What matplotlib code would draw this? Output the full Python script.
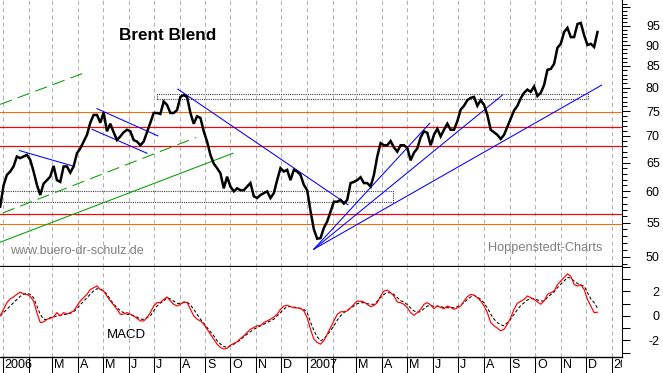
import matplotlib
matplotlib.use("Agg")
import matplotlib.pyplot as plt
import matplotlib.dates as mdates
import matplotlib.transforms as mtransforms
from matplotlib.ticker import NullFormatter
import pandas as pd

plt.rcParams['font.family'] = ['Liberation Sans', 'DejaVu Sans']

# ---------------- data ----------------
dates = pd.date_range('2005-12-29', periods=180, freq='4D')

price = [57.5, 61.0, 62.8, 63.4, 64.3, 66.1, 65.8, 66.1, 66.4, 65.5,
         63.4, 61.1, 59.4, 61.3, 61.9, 62.5, 64.4, 61.9, 61.6, 64.3,
         64.3, 63.2, 64.3, 66.7, 67.6, 68.9, 70.2, 72.6, 74.2, 74.2,
         72.6, 74.7, 70.9, 72.4, 70.7, 69.2, 69.9, 70.7, 71.2, 70.9,
         69.2, 68.9, 68.2, 68.9, 70.7, 72.6, 74.6, 74.6, 74.4, 77.0,
         76.3, 74.6, 74.6, 75.2, 78.0, 78.4, 78.0, 74.6, 72.4, 73.9,
         73.6, 70.9, 68.9, 66.4, 64.8, 64.0, 63.1, 60.5, 62.5, 60.8,
         60.0, 60.5, 60.2, 60.2, 60.8, 61.4, 59.2, 58.9, 59.4, 59.7,
         60.0, 58.9, 59.7, 61.9, 64.0, 63.4, 63.7, 61.9, 63.7, 63.4,
         62.8, 61.1, 60.2, 56.8, 54.0, 52.6, 52.7, 54.2, 55.2, 56.7,
         58.3, 58.3, 58.6, 58.0, 58.6, 61.4, 61.6, 61.9, 62.4, 61.4,
         61.4, 60.8, 62.8, 66.1, 68.6, 68.2, 68.2, 69.0, 67.8, 67.0,
         68.2, 68.2, 67.7, 65.4, 66.8, 67.6, 69.7, 70.9, 70.6, 68.2,
         70.2, 71.4, 69.9, 71.2, 72.4, 71.2, 71.2, 72.9, 75.3, 76.1,
         77.3, 77.8, 78.0, 76.1, 77.3, 76.3, 74.2, 71.2, 70.7, 70.2,
         69.4, 70.2, 71.8, 73.4, 75.1, 76.1, 77.7, 78.9, 79.6, 79.1,
         80.3, 78.2, 78.9, 80.6, 84.1, 84.3, 85.5, 89.4, 90.4, 93.4,
         94.5, 92.1, 92.1, 95.5, 95.8, 92.6, 90.1, 90.4, 89.6, 93.4]

macd = [0.0, 0.55, 1.08, 1.4, 1.55, 1.76, 1.95, 1.8, 1.76, 1.6,
        1.22, 0.27, -0.54, -0.5, -0.28, -0.2, -0.06, 0.27, 0.0, 0.27,
        0.15, 0.27, 0.4, 0.81, 1.22, 1.5, 1.76, 2.16, 2.3, 2.45,
        2.16, 2.03, 1.63, 1.22, 0.9, 0.54, 0.13, 0.15, 0.27, 0.15,
        0.0, -0.2, -0.41, -0.41, -0.14, 0.27, 0.81, 1.08, 1.1, 1.35,
        1.55, 1.22, 0.95, 0.81, 0.95, 1.14, 1.1, 0.54, 0.0, -0.27,
        -0.41, -0.68, -1.09, -1.5, -1.9, -2.31, -2.58, -2.71, -2.66, -2.39,
        -2.25, -2.11, -1.85, -1.63, -1.35, -1.09, -0.95, -0.81, -0.8, -0.54,
        -0.4, -0.27, -0.1, 0.13, 0.54, 0.81, 0.86, 0.76, 0.67, 0.65,
        0.6, 0.41, -0.14, -1.1, -1.9, -2.17, -2.31, -2.03, -1.5, -0.95,
        -0.41, 0.13, 0.33, 0.35, 0.41, 0.67, 0.95, 1.22, 1.2, 1.14,
        0.95, 0.76, 0.85, 1.08, 1.63, 2.03, 2.11, 1.9, 1.63, 1.14,
        1.08, 0.95, 0.67, 0.27, 0.05, 0.27, 0.54, 0.95, 1.08, 0.9,
        0.59, 0.81, 0.7, 0.59, 0.81, 0.7, 0.54, 0.65, 0.81, 1.22,
        1.57, 1.76, 1.7, 1.49, 1.22, 0.81, 0.27, -0.54, -0.81, -1.0,
        -1.22, -1.09, -0.68, -0.14, 0.54, 1.03, 1.2, 1.35, 1.63, 1.5,
        1.35, 1.15, 0.95, 1.22, 1.76, 1.9, 2.03, 2.57, 2.85, 3.15,
        3.44, 3.25, 2.57, 2.44, 2.57, 2.16, 1.35, 0.81, 0.27, 0.3]

signal = [0.0, 0.27, 0.54, 0.8, 1.08, 1.35, 1.6, 1.76, 1.85, 1.76,
          1.49, 0.8, 0.13, -0.27, -0.3, -0.14, -0.1, 0.0, 0.05, 0.1,
          0.15, 0.21, 0.35, 0.57, 0.92, 1.2, 1.49, 1.76, 2.05, 2.22,
          2.22, 2.03, 1.76, 1.35, 0.95, 0.7, 0.41, 0.27, 0.13, 0.1,
          0.0, -0.1, -0.27, -0.27, -0.14, 0.0, 0.41, 0.81, 1.05, 1.22,
          1.49, 1.4, 1.22, 1.03, 1.03, 1.1, 1.14, 0.9, 0.54, 0.13,
          -0.27, -0.6, -0.95, -1.3, -1.63, -2.03, -2.3, -2.5, -2.58, -2.45,
          -2.31, -2.15, -1.95, -1.7, -1.5, -1.3, -1.09, -0.95, -0.81, -0.68,
          -0.54, -0.4, -0.27, 0.0, 0.27, 0.55, 0.76, 0.76, 0.72, 0.67,
          0.62, 0.54, 0.27, -0.5, -1.2, -1.7, -2.03, -1.9, -1.55, -1.2,
          -0.81, -0.35, 0.0, 0.27, 0.45, 0.65, 0.81, 1.0, 1.08, 1.08,
          1.0, 0.95, 0.95, 1.2, 1.5, 1.76, 1.9, 1.9, 1.76, 1.5,
          1.25, 1.14, 0.92, 0.65, 0.41, 0.3, 0.35, 0.59, 0.8, 0.86,
          0.76, 0.8, 0.78, 0.67, 0.67, 0.67, 0.67, 0.75, 0.9, 1.08,
          1.35, 1.55, 1.68, 1.55, 1.35, 1.08, 0.65, 0.15, -0.27, -0.55,
          -0.72, -0.81, -0.55, -0.25, 0.13, 0.5, 0.85, 1.08, 1.3, 1.41,
          1.41, 1.3, 1.22, 1.22, 1.5, 1.75, 1.95, 2.3, 2.6, 2.85,
          3.15, 3.1, 2.85, 2.65, 2.5, 2.44, 1.9, 1.4, 1.08, 0.65]

red_levels = [56.3, 68.0, 71.7]
orange_levels = [54.8, 74.9]

blue_trends = [
    ('2006-01-21', 67.2, '2006-03-28', 64.3),
    ('2006-04-24', 75.5, '2006-07-06', 70.0),
    ('2006-04-18', 71.3, '2006-06-23', 66.7),
    ('2006-07-30', 79.7, '2007-02-19', 57.8),
    ('2007-01-09', 51.1, '2007-05-28', 72.5),
    ('2007-01-09', 51.1, '2007-08-23', 78.4),
    ('2007-01-09', 51.1, '2007-12-20', 80.6),
]
green_solid = [('2005-12-29', 52.1, '2006-10-04', 66.7)]
green_dashed = [('2006-01-01', 56.5, '2006-08-21', 69.7),
                ('2005-12-29', 76.4, '2006-04-13', 83.7)]
boxes = [('2006-07-05', '2007-12-04', 77.6, 78.6),
         ('2005-12-20', '2007-04-14', 58.2, 60.0)]

price_ticks = [50, 55, 60, 65, 70, 75, 80, 85, 90, 95, 100]
price_labels = ['50', '55', '60', '65', '70', '75', '80', '85', '90', '95', '']
macd_ticks = [-3, -2, -1, 0, 1, 2, 3, 4]
macd_labels = ['', '-2', '', '0', '', '2', '', '']
month_starts = pd.date_range('2006-01-01', '2008-01-01', freq='MS')
month_labels = ['2006', '', 'M', 'A', 'M', 'J', 'J', 'A', 'S', 'O', 'N', 'D',
                '2007', '', 'M', 'A', 'M', 'J', 'J', 'A', 'S', 'O', 'N', 'D',
                '2008']

# ---------------- figure ----------------
W, H = 663, 373
fig = plt.figure(figsize=(W / 100, H / 100), dpi=100)
axw = 622 / W
ax = fig.add_axes([0, 106 / H, axw, 267 / H])
axm = fig.add_axes([0, 16 / H, axw, 90 / H])
axs = fig.add_axes([0, 0, axw, 16 / H])

d2n = mdates.datestr2num
x = mdates.date2num(dates.to_pydatetime())
x0 = d2n('2006-01-01')
xlim = (x0 - 3.24, x0 + 742.4)
mx = [mdates.date2num(m.to_pydatetime()) for m in month_starts]

grid_kw = dict(color='#b4b4b4', lw=0.75, ls=(0, (4, 3)), zorder=0)

# ---- main panel ----
ax.set_yscale('log')
ax.set_xlim(xlim)
ax.set_ylim(48.63, 102.1)
for m in mx:
    ax.axvline(m, **grid_kw)
for lv in red_levels:
    ax.axhline(lv, color='#ff0000', lw=0.85, zorder=2)
for lv in orange_levels:
    ax.axhline(lv, color='#ff6a00', lw=0.75, zorder=2)
for a, b, c, d in boxes:
    xa, xc = d2n(a), d2n(b)
    ax.plot([xa, xc, xc, xa, xa], [c, c, d, d, c], color='#404040',
            lw=0.8, ls=(0, (1, 1)), zorder=2)
for a, pa, b, pb in green_solid:
    ax.plot([d2n(a), d2n(b)], [pa, pb], color='#00a000', lw=0.75, zorder=3)
for a, pa, b, pb in green_dashed:
    ax.plot([d2n(a), d2n(b)], [pa, pb], color='#00a000', lw=0.75,
            ls=(0, (12, 6)), zorder=3)
for a, pa, b, pb in blue_trends:
    ax.plot([d2n(a), d2n(b)], [pa, pb], color='#0000ff', lw=0.75, zorder=3)
ax.plot(x, price, color='black', lw=1.8, zorder=5, solid_joinstyle='miter')

ax.set_xticks([])
ax.yaxis.tick_right()
ax.set_yticks(price_ticks)
ax.set_yticklabels(price_labels, ha='right')
ax.set_yticks([v for v in range(49, 102) if v % 5 != 0], minor=True)
ax.yaxis.set_minor_formatter(NullFormatter())
ax.tick_params(axis='y', which='major', length=5.8, width=0.75, pad=21.4,
               labelsize=9, direction='out', right=True, left=False)
ax.tick_params(axis='y', which='minor', length=3.6, width=0.75,
               direction='out', right=True, left=False)
ax.spines['top'].set_visible(False)
ax.spines['left'].set_visible(False)
ax.spines['right'].set_linewidth(0.75)
ax.spines['bottom'].set_linewidth(1.6)

# ---- MACD panel ----
axm.set_xlim(xlim)
axm.set_ylim(-3.36, 3.90)
for m in mx:
    axm.axvline(m, **grid_kw)
axm.plot(x, signal, color='black', lw=0.75, ls=(0, (3, 2)), zorder=3)
axm.plot(x, macd, color='#ff0000', lw=0.85, zorder=4)
axm.set_xticks([])
axm.yaxis.tick_right()
axm.set_yticks(macd_ticks)
axm.set_yticklabels(macd_labels, ha='right')
axm.tick_params(axis='y', which='major', length=5.8, width=0.75, pad=21.4,
                labelsize=9, direction='out', right=True, left=False)
axm.spines['top'].set_visible(False)
axm.spines['left'].set_visible(False)
axm.spines['right'].set_linewidth(0.75)
axm.spines['bottom'].set_linewidth(1.0)

# ---- date strip ----
axs.set_xlim(xlim)
axs.set_ylim(0, 1)
axs.axis('off')
off = mtransforms.offset_copy(axs.transData, fig=fig, x=2, y=0, units='dots')
for m, lab in zip(mx, month_labels):
    axs.axvline(m, color='black', lw=0.75)
    if lab:
        axs.text(m, 0.47, lab, transform=off, ha='left', va='center',
                 fontsize=9, clip_on=True)

# ---- texts ----
fig.text(168 / W, 1 - 36 / H, 'Brent Blend', ha='center', va='center',
         fontsize=12.3, fontweight='bold')
fig.text(10 / W, 1 - 251 / H, 'www.buero-dr-schulz.de', ha='left',
         va='center', fontsize=9, color='#808080')
fig.text(488 / W, 1 - 248 / H, 'Hoppenstedt-Charts', ha='left',
         va='center', fontsize=9.2, color='#808080')
fig.text(126 / W, 1 - 335.5 / H, 'MACD', ha='center', va='center',
         fontsize=9.5)

fig.canvas.draw()
for lab in ax.get_yticklabels() + axm.get_yticklabels():
    lab.set_ha('right')

fig.savefig('out.png', dpi=100)
